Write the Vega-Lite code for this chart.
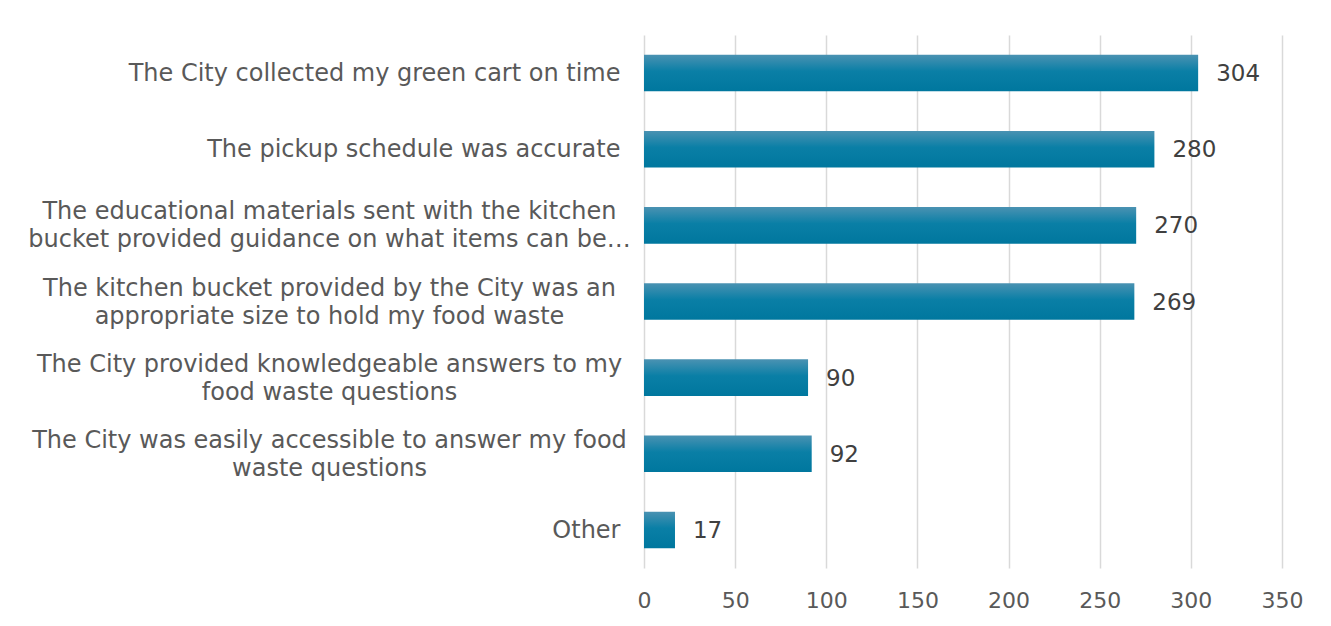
{
  "$schema": "https://vega.github.io/schema/vega-lite/v6.json",
  "width": 638,
  "height": 533,
  "autosize": "none",
  "padding": {"left": 644, "top": 35, "right": 49, "bottom": 58},
  "background": "#ffffff",
  "config": {
    "view": {"stroke": null},
    "font": "DejaVu Sans"
  },
  "data": {
    "values": [
      {"item": "The City collected my green cart on time", "count": 304},
      {"item": "The pickup schedule was accurate", "count": 280},
      {"item": "The educational materials sent with the kitchen|bucket provided guidance on what items can be…", "count": 270},
      {"item": "The kitchen bucket provided by the City was an|appropriate size to hold my food waste", "count": 269},
      {"item": "The City provided knowledgeable answers to my|food waste questions", "count": 90},
      {"item": "The City was easily accessible to answer my food|waste questions", "count": 92},
      {"item": "Other", "count": 17}
    ]
  },
  "encoding": {
    "y": {
      "field": "item",
      "type": "nominal",
      "sort": null,
      "scale": {"paddingInner": 0.52, "paddingOuter": 0.26},
      "axis": {
        "title": null,
        "domain": false,
        "ticks": false,
        "labelLimit": 700,
        "labelFontSize": 24,
        "labelColor": "#595959",
        "labelLineHeight": 28,
        "labelAlign": {"condition": {"test": "indexof(datum.value, '|') >= 0", "value": "center"}, "value": "right"},
        "labelPadding": {"condition": {"test": "indexof(datum.value, '|') >= 0", "value": 315}, "value": 24},
        "labelOffset": {"condition": {"test": "indexof(datum.value, '|') >= 0", "value": -13}, "value": 1},
        "labelExpr": "split(datum.value, '|')"
      }
    },
    "x": {
      "field": "count",
      "type": "quantitative",
      "scale": {"domain": [0, 350]},
      "axis": {
        "title": null,
        "values": [0, 50, 100, 150, 200, 250, 300, 350],
        "domain": false,
        "ticks": false,
        "grid": true,
        "gridColor": "#d9d9d9",
        "gridWidth": 1.5,
        "labelFlush": false,
        "labelFontSize": 22,
        "labelColor": "#595959",
        "labelPadding": 22
      }
    }
  },
  "layer": [
    {
      "mark": {
        "type": "bar",
        "color": {
          "gradient": "linear",
          "x1": 0, "y1": 0, "x2": 0, "y2": 1,
          "stops": [
            {"offset": 0, "color": "#4a92b2"},
            {"offset": 0.45, "color": "#0a7fa6"},
            {"offset": 1, "color": "#00779e"}
          ]
        }
      }
    },
    {
      "mark": {"type": "text", "align": "left", "baseline": "middle", "dx": 18, "dy": 1, "fontSize": 23, "color": "#404040"},
      "encoding": {"text": {"field": "count", "type": "quantitative"}}
    }
  ]
}
